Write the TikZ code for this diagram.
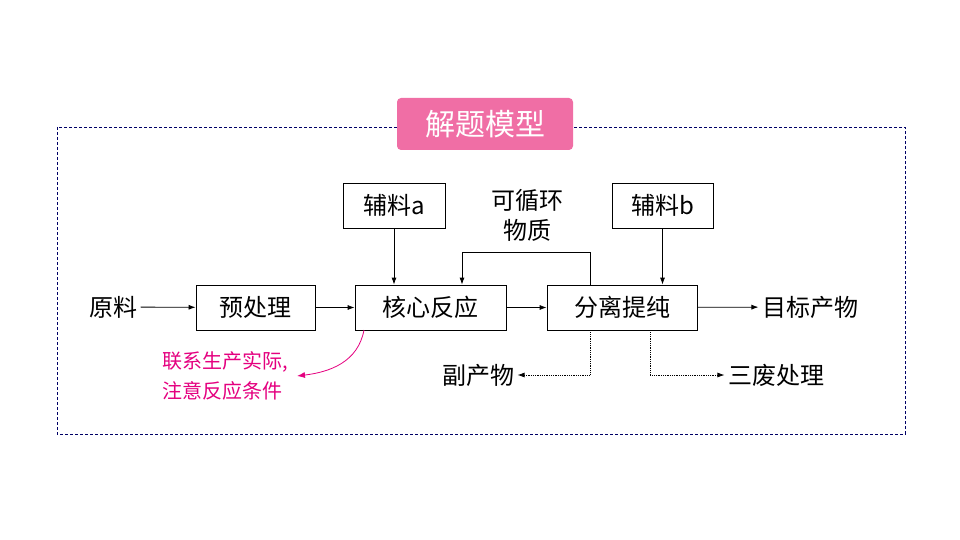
\documentclass[tikz,border=0pt]{standalone}
\usepackage{fontspec}
\newfontfamily\cjk{Noto Sans CJK SC}
\usetikzlibrary{arrows.meta}
\begin{document}
\begin{tikzpicture}[x=1pt,y=-1pt,
  box/.style={draw,thick,minimum height=45pt,inner sep=3pt,font=\cjk\fontsize{24}{24}\selectfont},
  lbl/.style={font=\cjk\fontsize{24}{24}\selectfont},
  arr/.style={-{Latex[length=7pt,width=5pt]},thick},
  dar/.style={-{Latex[length=7pt,width=5pt]},thick,densely dotted}]
\useasboundingbox (0,0) rectangle (960,540);
\draw[densely dashed,color=blue!40!black] (57,127) rectangle (905,434);
\node[fill={rgb,255:red,240;green,110;blue,165},rounded corners=4pt,minimum width=176pt,minimum height=52pt,text=white,font=\cjk\fontsize{30}{30}\selectfont] (t) at (485,124) {解题模型};
\node[box,minimum width=102pt] (a) at (394,205.5) {辅料a};
\node[box,minimum width=101pt] (b) at (662.5,205.5) {辅料b};
\node[lbl,align=center] (c) at (527,215) {可循环\\[6pt]物质};
\node[lbl] (y) at (113,307) {原料};
\node[box,minimum width=119pt] (p) at (255.5,307.5) {预处理};
\node[box,minimum width=151pt] (h) at (430.5,307.5) {核心反应};
\node[box,minimum width=150pt] (f) at (622,307.5) {分离提纯};
\node[lbl] (m) at (810,307) {目标产物};
\node[lbl] (fu) at (478,375) {副产物};
\node[lbl] (s) at (776,375) {三废处理};
\node[font=\cjk\fontsize{20}{20}\selectfont,text={rgb,255:red,228;green,0;blue,127},align=left] (n) at (225,376) {联系生产实际,\\[8pt]注意反应条件};
\draw[arr] (y) -- (p);
\draw[arr] (p) -- (h);
\draw[arr] (h) -- (f);
\draw[arr] (f) -- (m);
\draw[arr] (a) -- (a|-h.north);
\draw[arr] (b) -- (b|-f.north);
\coordinate (l1) at (590,252);
\coordinate (l2) at (462,252);
\draw[arr] (f.north-|l1) -- (l1) -- (l2) -- (l2|-h.north);
\coordinate (d1) at (590,375);
\coordinate (d2) at (650,375);
\draw[dar] (f.south-|d1) -- (d1) -- (fu.east);
\draw[dar] (f.south-|d2) -- (d2) -- (s.west);
\coordinate (cs) at (364,330);
\draw[-{Latex[length=8pt,width=6pt]},thick,color={rgb,255:red,228;green,0;blue,127}] (cs) .. controls (358,362) and (330,372) .. (297,376);
\end{tikzpicture}
\end{document}
